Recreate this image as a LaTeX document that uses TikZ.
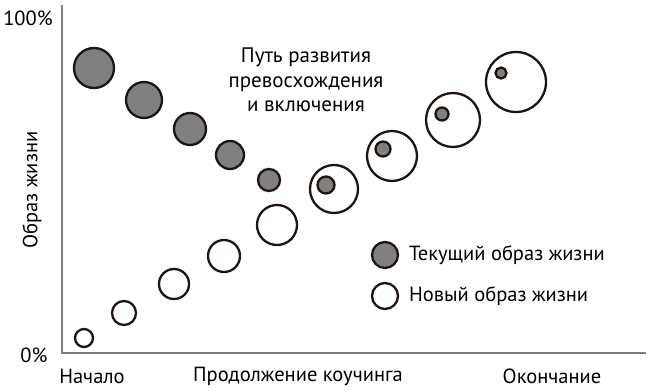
\documentclass[tikz,border=0pt]{standalone}
\usepackage{fontspec}
\setmainfont{PT Sans}
\definecolor{axisgray}{HTML}{7E7E74}
\definecolor{fillgray}{HTML}{808080}
\definecolor{edge}{HTML}{1E1410}
\begin{document}
\begin{tikzpicture}[x=1pt,y=-1pt,
  cur/.style={circle,draw=edge,line width=2.3pt,fill=fillgray,inner sep=0pt,minimum size=#1},
  new/.style={circle,draw=edge,line width=2.3pt,fill=white,inner sep=0pt,minimum size=#1},
  lbl/.style={font=\fontsize{20.5}{24}\selectfont,inner sep=0pt,text=black}]
\useasboundingbox (0,0) rectangle (648,391);
% axes
\coordinate (top) at (62,5);
\coordinate (orig) at (62,353);
\coordinate (right) at (646,353);
\draw[axisgray,line width=2.4pt] (top) -- (orig) -- (right);
% axis labels
\node[lbl] (p100) at (28,18) {100\%};
\node[lbl] (p0) at (34,355) {0\%};
\node[lbl,rotate=90] (ylab) at (32,190) {Образ жизни};
\node[lbl] (start) at (92,376) {Начало};
\node[lbl] (mid) at (298,376) {Продолжение коучинга};
\node[lbl] (end) at (552,376) {Окончание};
% title
\node[lbl,align=center,font=\fontsize{21}{24.5}\selectfont] (title) at (306,80) {Путь развития\\превосхождения\\и включения};
% current lifestyle circles
\node[cur=40pt] (c1) at (94,68) {};
\node[cur=36pt] (c2) at (144,100) {};
\node[cur=32pt] (c3) at (190,129) {};
\node[cur=28pt] (c4) at (230,155) {};
\node[cur=22pt] (c5) at (269,180) {};
% new lifestyle circles
\node[new=18pt] (n1) at (84,338) {};
\node[new=24pt] (n2) at (124,313) {};
\node[new=30pt] (n3) at (174,284) {};
\node[new=32pt] (n4) at (224,256) {};
\node[new=40pt] (n5) at (277,225) {};
% combined
\node[new=48pt] (b1) at (334,189) {};
\node[cur=17pt] (d1) at (326,185) {};
\node[new=50pt] (b2) at (392,156) {};
\node[cur=15pt] (d2) at (383,149) {};
\node[new=54pt] (b3) at (453,120) {};
\node[cur=13pt] (d3) at (442,114) {};
\node[new=60pt] (b4) at (516,82) {};
\node[cur=11pt] (d4) at (501,73) {};
% legend
\node[cur=26pt] (lc) at (385,255) {};
\node[lbl,anchor=west] (lct) at (409,255) {Текущий образ жизни};
\node[new=26pt] (ln) at (385,296) {};
\node[lbl,anchor=west] (lnt) at (409,296) {Новый образ жизни};
\end{tikzpicture}
\end{document}
